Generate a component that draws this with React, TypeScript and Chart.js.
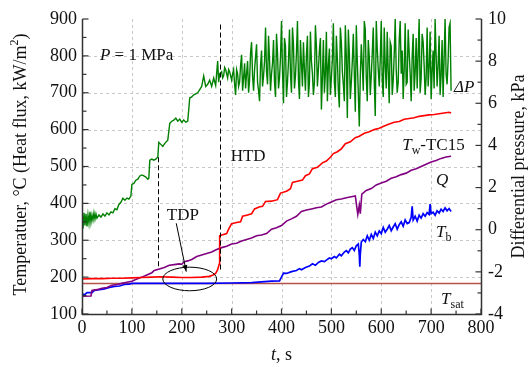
import React, { useEffect, useRef } from "react";
import { Chart, registerables } from "chart.js";
Chart.register(...registerables);

// ---------- data ----------
const dpTime = [0,2,4,6,8,10,12,14,16,18,20,22,24,26,28,30,34,38,42,46,50,54,58,62,66,70,74,78,82,86,90,94,98,100,104,108,112,116,120,124,128,132,134,136,140,144,148,152,154,158,162,166,172,176,180,184,188,192,196,200,204,208,212,216,220,224,228,232,236,240,244,248,252,256,260,264,268,272,274,276,
280,282,284,286,288,290,292,294,296,298,300,302,304,306,308,310,312,314,316,318,320,322,324,326,328,330,332,334,336,338,340,342,344,346,348,350,352,354,356,358,360,362,364,366,368,370,372,374,376,378,380,382,384,386,388,390,392,394,396,398,
400,402,404,406,408,410,412,414,416,418,420,422,424,426,428,430,432,434,436,438,440,442,444,446,448,450,452,454,456,458,460,462,464,466,468,470,472,474,476,478,480,482,484,486,488,490,492,494,496,498,
500,502,504,506,508,510,512,514,516,518,520,522,524,526,528,530,532,534,536,538,540,542,544,546,548,550,552,554,556,558,560,562,564,566,568,570,572,574,576,578,580,582,584,586,588,590,592,594,596,598,
600,602,604,606,608,610,612,614,616,618,620,622,624,626,628,630,632,634,636,638,640,642,644,646,648,650,652,654,656,658,660,662,664,666,668,670,672,674,676,678,680,682,684,686,688,690,692,694,696,698,
700,702,704,706,708,710,712,714,716,718,720,722,724,726,728,730,732,734,736,738,740];
const dpValue = [0.5,0.05,0.8,0.2,0.75,0.15,0.7,0.3,0.85,0.35,0.7,0.45,0.8,0.5,0.75,0.55,0.7,0.6,0.75,0.65,0.8,0.7,0.85,0.8,1.0,0.95,1.2,1.3,1.5,1.4,1.5,1.45,1.6,2.15,2.2,2.35,2.4,2.55,2.6,2.55,2.5,2.4,2.45,3.3,3.35,3.3,3.35,3.45,4.15,4.05,3.95,4.1,4.25,5.05,5.15,5.2,5.3,5.15,5.25,5.1,5.2,5.1,5.15,6.25,6.3,6.4,6.45,6.5,6.65,6.8,7.3,6.8,6.9,7.1,6.8,7.2,6.85,8.0,7.0,7.4,
7.5,7.2,7.3,7.7,7.6,7.4,7.2,7.6,7.5,7.3,7.1,7.4,7.6,6.9,6.4,7.6,7.4,6.8,7.0,7.8,8.3,6.6,7.2,7.9,6.7,7.4,8.0,6.5,7.1,8.4,8.9,7.3,6.6,7.6,8.2,8.8,7.0,6.6,6.1,7.8,8.5,6.8,7.3,8.0,9.6,7.5,6.9,9.2,8.1,6.6,7.4,7.9,9.0,7.0,6.3,9.3,8.4,6.7,7.2,8.2,
9.9,7.5,6.0,9.1,8.7,6.3,7.0,8.0,9.5,7.4,6.5,9.6,8.8,6.7,7.3,8.4,9.9,7.1,6.2,9.0,7.9,6.8,8.9,7.6,6.6,8.3,9.2,6.3,7.0,9.4,8.0,7.4,6.4,7.0,9.7,8.7,6.8,7.6,8.5,9.1,5.7,7.2,9.0,6.5,7.4,9.4,6.1,7.8,8.6,6.4,
7.2,8.1,9.8,7.0,6.3,9.2,8.1,6.6,5.8,9.6,8.9,7.5,6.9,6.1,9.7,8.2,5.3,9.5,8.4,6.2,7.0,8.0,9.3,7.4,5.6,9.7,8.0,6.5,4.9,7.3,8.8,7.8,6.6,9.9,9.5,7.2,6.1,9.0,8.2,6.4,7.3,8.4,9.6,7.0,5.4,9.9,8.6,7.6,6.8,8.1,
9.9,7.1,6.3,9.6,7.8,6.7,9.4,7.5,6.0,8.9,8.7,6.4,7.1,8.3,10.0,7.6,6.5,7.0,9.0,9.9,7.4,8.5,6.2,7.6,9.8,6.9,7.0,9.5,8.4,7.4,6.1,8.2,9.3,6.6,7.5,9.1,6.7,8.3,10.0,6.5,7.2,9.3,8.9,7.8,6.4,7.2,9.6,6.8,7.7,9.4,
6.2,7.5,8.5,6.7,10.0,8.3,6.8,7.8,9.2,6.4,7.3,9.0,6.3,8.1,10.0,7.4,6.9,8.0,9.6,9.8,6.6];

const twTime = [0,20,40,60,80,100,120,140,156,180,200,220,240,255,262,268,272,275,276,282,290,294,300,310,318,322,330,340,346,355,362,368,380,392,398,410,418,422,432,442,448,456,462,472,482,490,498,504,512,520,528,538,548,556,566,576,586,596,606,616,626,636,646,656,666,676,686,696,706,716,726,736,740];
const twValue = [195,196,196,197,197,198,199,200,201,200,199,199,200,202,205,210,220,235,312,315,318,330,345,348,350,365,368,372,385,390,392,405,406,410,428,433,440,457,460,463,475,480,494,498,510,515,525,535,540,548,562,567,578,582,590,594,600,604,610,615,620,622,628,630,632,636,638,640,641,643,645,647,645];

const qTime = [0,18,20,30,40,50,60,70,80,90,100,110,120,130,140,145,155,165,175,185,195,200,205,212,220,230,240,250,260,270,280,290,300,310,320,330,340,350,360,370,380,390,400,410,420,430,440,450,460,470,480,490,500,510,520,530,540,548,551,553,556,558,561,570,580,590,600,610,620,630,640,650,660,670,680,690,700,710,720,730,740];
const qValue = [148,149,164,166,170,172,178,180,183,186,189,195,200,206,212,218,222,226,232,234,236,235,242,244,248,256,260,264,268,275,280,284,290,292,298,302,306,312,314,318,330,334,340,352,358,365,378,382,385,388,390,398,404,410,412,415,418,420,390,370,395,372,425,435,440,450,455,460,468,472,478,482,490,494,500,506,512,516,522,526,528];

const tbTime = [0,5,10,20,25,35,45,55,65,75,85,95,100,150,200,250,300,340,360,380,396,400,404,410,420,430,436,440,448,456,462,468,474,480,486,492,496,500,506,510,516,520,526,530,534,538,542,546,550,554,556,557,558,560,564,568,572,576,580,584,588,592,596,600,604,608,612,616,620,624,628,632,636,640,644,648,652,656,660,662,664,668,672,676,680,684,688,692,696,698,700,704,708,712,716,720,724,728,732,736,740];
const tbValue = [155,152,158,158,164,166,168,172,175,176,180,181,183,183,183,183,184,185,187,189,190,200,211,210,215,218,223,220,226,230,236,232,240,244,242,248,252,250,256,252,262,258,268,272,266,276,280,272,285,290,260,228,262,295,302,296,312,300,316,305,322,312,325,318,335,322,330,340,326,336,345,330,342,350,338,355,345,348,362,392,355,365,352,368,360,372,365,375,370,398,372,376,368,380,374,384,378,388,380,386,378];

const tsatTime = [0, 800];
const tsatValue = [183, 183];

const xTicksMajor = [0,100,200,300,400,500,600,700,800];
const xGridLines = [100,200,300,400,500,600,700];
const yGridLines = [200,300,400,500,600,700,800];

// annotations (data coordinates)
const dashedMarkers = [
  { t: 153, from: 228, to: 525 },
  { t: 276, from: 218, to: 885 },
];

const FONT = "'Liberation Serif', 'Times New Roman', serif";

type Seg = { t: string; it?: boolean; sub?: boolean; sup?: boolean };

function drawRich(ctx: CanvasRenderingContext2D, segs: Seg[], x: number, y: number, size: number, align: "left" | "center" = "left") {
  const font = (s: Seg) => `${s.it ? "italic " : ""}${s.sub || s.sup ? Math.round(size * 0.68) : size}px ${FONT}`;
  let total = 0;
  for (const s of segs) { ctx.font = font(s); total += ctx.measureText(s.t).width; }
  let cx = align === "center" ? x - total / 2 : x;
  ctx.textBaseline = "middle";
  ctx.textAlign = "left";
  for (const s of segs) {
    ctx.font = font(s);
    const dy = s.sub ? size * 0.32 : s.sup ? -size * 0.35 : 0;
    ctx.fillText(s.t, cx, y + dy);
    cx += ctx.measureText(s.t).width;
  }
}

const labels: { segs: Seg[]; t: number; v: number }[] = [
  { segs: [{ t: "P", it: true }, { t: " = 1 MPa" }], t: 36, v: 802 },
  { segs: [{ t: "HTD" }], t: 298, v: 526 },
  { segs: [{ t: "TDP" }], t: 170, v: 368 },
  { segs: [{ t: "ΔP", it: true }], t: 746, v: 713 },
  { segs: [{ t: "T", it: true }, { t: "w", sub: true }, { t: "-TC15" }], t: 642, v: 558 },
  { segs: [{ t: "Q", it: true }], t: 710, v: 461 },
  { segs: [{ t: "T", it: true }, { t: "b", sub: true }], t: 710, v: 320 },
  { segs: [{ t: "T", it: true }, { t: "sat", sub: true }], t: 720, v: 140 },
];

const deco = {
  id: "deco",
  beforeDatasetsDraw(chart: any) {
    const { ctx, chartArea: a, scales } = chart;
    const x = scales.x, y = scales.y;
    ctx.save();
    ctx.strokeStyle = "#c8c8c8";
    ctx.lineWidth = 1;
    ctx.setLineDash([3, 3]);
    for (const v of xGridLines) {
      const px = Math.round(x.getPixelForValue(v)) + 0.5;
      ctx.beginPath(); ctx.moveTo(px, a.top); ctx.lineTo(px, a.bottom); ctx.stroke();
    }
    for (const v of yGridLines) {
      const py = Math.round(y.getPixelForValue(v)) + 0.5;
      ctx.beginPath(); ctx.moveTo(a.left, py); ctx.lineTo(a.right, py); ctx.stroke();
    }
    ctx.restore();
  },
  afterDatasetsDraw(chart: any) {
    const { ctx, chartArea: a, scales } = chart;
    const x = scales.x, y = scales.y, y1 = scales.y1;
    ctx.save();
    // dashed markers
    ctx.strokeStyle = "#000"; ctx.lineWidth = 1; ctx.setLineDash([5, 3]);
    for (const m of dashedMarkers) {
      const px = Math.round(x.getPixelForValue(m.t)) + 0.5;
      ctx.beginPath(); ctx.moveTo(px, y.getPixelForValue(m.to)); ctx.lineTo(px, y.getPixelForValue(m.from)); ctx.stroke();
    }
    ctx.setLineDash([]);
    // ellipse
    const ecx = x.getPixelForValue(216), ecy = y.getPixelForValue(195);
    const erx = Math.abs(x.getPixelForValue(270) - ecx), ery = Math.abs(y.getPixelForValue(227) - ecy);
    ctx.beginPath(); ctx.ellipse(ecx, ecy, erx, ery, 0, 0, Math.PI * 2); ctx.stroke();
    // arrow
    const ax0 = x.getPixelForValue(189), ay0 = y.getPixelForValue(346);
    const ax1 = x.getPixelForValue(209), ay1 = y.getPixelForValue(215);
    ctx.beginPath(); ctx.moveTo(ax0, ay0); ctx.lineTo(ax1, ay1); ctx.stroke();
    const ang = Math.atan2(ay1 - ay0, ax1 - ax0);
    ctx.beginPath();
    ctx.moveTo(ax1, ay1);
    ctx.lineTo(ax1 - 7 * Math.cos(ang - 0.35), ay1 - 7 * Math.sin(ang - 0.35));
    ctx.lineTo(ax1 - 7 * Math.cos(ang + 0.35), ay1 - 7 * Math.sin(ang + 0.35));
    ctx.closePath(); ctx.fillStyle = "#000"; ctx.fill();

    // axes
    ctx.strokeStyle = "#333"; ctx.lineWidth = 1.5;
    const L = Math.round(a.left) + 0.5, R = Math.round(a.right) + 0.5, B = Math.round(a.bottom) + 0.5, T = Math.round(a.top);
    ctx.beginPath(); ctx.moveTo(L, T); ctx.lineTo(L, B); ctx.lineTo(R, B); ctx.lineTo(R, T); ctx.stroke();
    ctx.lineWidth = 1.2;
    // ticks
    for (let v = 100; v <= 900; v += 50) {
      const py = y.getPixelForValue(v); const len = v % 100 === 0 ? 6 : 4;
      ctx.beginPath(); ctx.moveTo(L, py); ctx.lineTo(L + len, py); ctx.stroke();
    }
    for (let v = -4; v <= 10; v += 1) {
      const py = y1.getPixelForValue(v); const len = v % 2 === 0 ? 6 : 4;
      ctx.beginPath(); ctx.moveTo(R, py); ctx.lineTo(R - len, py); ctx.stroke();
    }
    for (let v = 0; v <= 800; v += 50) {
      const px = x.getPixelForValue(v); const len = v % 100 === 0 ? 6 : 4;
      ctx.beginPath(); ctx.moveTo(px, B); ctx.lineTo(px, B - len); ctx.stroke();
    }
    ctx.restore();
  },
  afterDraw(chart: any) {
    const { ctx, chartArea: a, scales } = chart;
    const x = scales.x, y = scales.y;
    ctx.save();
    ctx.fillStyle = "#111";
    for (const l of labels) drawRich(ctx, l.segs, x.getPixelForValue(l.t), y.getPixelForValue(l.v), 17);
    // axis titles
    const midY = (a.top + a.bottom) / 2;
    ctx.save(); ctx.translate(21, midY - 2); ctx.rotate(-Math.PI / 2);
    drawRich(ctx, [{ t: "Temperatuer, °C (Heat flux, kW/m" }, { t: "2", sup: true }, { t: ")" }], 0, 0, 18, "center");
    ctx.restore();
    ctx.save(); ctx.translate(519, midY); ctx.rotate(-Math.PI / 2);
    drawRich(ctx, [{ t: "Differential pressure, kPa" }], 0, 0, 18, "center");
    ctx.restore();
    drawRich(ctx, [{ t: "t", it: true }, { t: ", s" }], (a.left + a.right) / 2, 355, 18, "center");
    ctx.restore();
  },
};

function pts(t: number[], v: number[]) { return t.map((tt, i) => ({ x: tt, y: v[i] })); }

export default function App() {
  const ref = useRef<HTMLCanvasElement | null>(null);
  useEffect(() => {
    if (!ref.current) return;
    const tickFont = { family: FONT, size: 18 };
    const chart = new Chart(ref.current, {
      type: "line",
      data: {
        datasets: [
          { label: "Tw-TC15", data: pts(twTime, twValue), borderColor: "#ff0000", borderWidth: 1.6, yAxisID: "y" },
          { label: "Q", data: pts(qTime, qValue), borderColor: "#800080", borderWidth: 1.6, yAxisID: "y" },
          { label: "Tb", data: pts(tbTime, tbValue), borderColor: "#0000ff", borderWidth: 1.7, yAxisID: "y" },
          { label: "ΔP", data: pts(dpTime, dpValue), borderColor: "#008000", borderWidth: 1.4, yAxisID: "y1" },
          { label: "Tsat", data: pts(tsatTime, tsatValue), borderColor: "#b5524c", borderWidth: 1.5, yAxisID: "y" },
        ] as any,
      },
      options: {
        animation: false,
        responsive: false,
        events: [],
        elements: { point: { radius: 0 }, line: { tension: 0 } },
        layout: { padding: { top: 19, left: 0, right: 0, bottom: 0 } },
        plugins: { legend: { display: false }, title: { display: false }, tooltip: { enabled: false } },
        scales: {
          x: {
            type: "linear", min: 0, max: 800,
            afterBuildTicks: (s: any) => { s.ticks = xTicksMajor.map((v) => ({ value: v })); },
            ticks: { font: tickFont, color: "#111", padding: 3, maxRotation: 0 },
            grid: { display: false, drawTicks: false },
            border: { display: false },
            afterFit: (s: any) => { s.height = 57; },
          },
          y: {
            type: "linear", position: "left", min: 100, max: 900,
            ticks: { stepSize: 100, font: tickFont, color: "#111", padding: 5 },
            grid: { display: false, drawTicks: false },
            border: { display: false },
            afterFit: (s: any) => { s.width = 82; },
          },
          y1: {
            type: "linear", position: "right", min: -4, max: 10,
            ticks: { stepSize: 2, font: tickFont, color: "#111", padding: 7 },
            grid: { display: false, drawTicks: false },
            border: { display: false },
            afterFit: (s: any) => { s.width = 50; },
          },
        },
      } as any,
      plugins: [deco],
    });
    return () => chart.destroy();
  }, []);
  return (
    <div style={{ position: "absolute", left: 0, top: 0, width: 531, height: 371, background: "#fff" }}>
      <canvas ref={ref} width={531} height={371} style={{ width: 531, height: 371, display: "block" }} />
    </div>
  );
}
